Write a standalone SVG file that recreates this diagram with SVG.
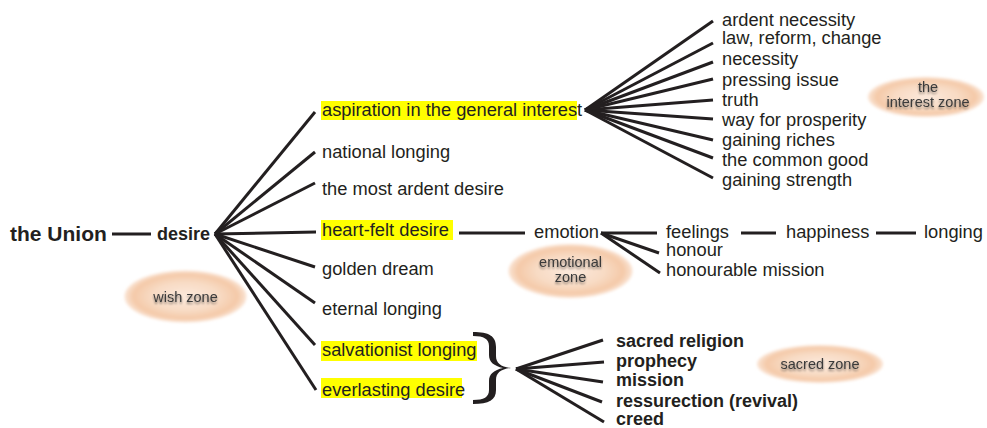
<svg xmlns="http://www.w3.org/2000/svg" width="987" height="428" viewBox="0 0 987 428">
<defs>
<radialGradient id="zg" cx="50%" cy="50%" r="50%">
<stop offset="0" stop-color="#fbe9dc"/>
<stop offset="0.55" stop-color="#f8dbc4"/>
<stop offset="0.85" stop-color="#f4c9a8"/>
<stop offset="1" stop-color="#fae4d4"/>
</radialGradient>
<filter id="soft" x="-10%" y="-20%" width="120%" height="140%"><feGaussianBlur stdDeviation="1.8"/></filter>
<filter id="tsh" x="-10%" y="-30%" width="120%" height="180%">
<feGaussianBlur in="SourceAlpha" stdDeviation="1.2" result="b"/>
<feOffset dx="0" dy="2" result="o"/>
<feComponentTransfer in="o" result="s"><feFuncA type="linear" slope="0.45"/></feComponentTransfer>
<feMerge><feMergeNode in="s"/><feMergeNode in="SourceGraphic"/></feMerge>
</filter>
</defs>
<style>
text{font-family:"Liberation Sans",Arial,sans-serif;fill:#231f20}
.l{font-size:18.3px}
.b{font-size:18px;font-weight:bold}
.z{font-size:14.5px;fill:#3a3a3a;text-anchor:middle}
.hl{fill:#ffff00}
.c line{stroke:#231f20;stroke-width:3;fill:none}
.zone{fill:url(#zg);filter:url(#soft)}
</style>
<rect width="987" height="428" fill="#fff"/>

<g id="zones">
<g id="wish-zone"><ellipse class="zone" cx="185.5" cy="296.5" rx="61" ry="26"/><text class="z" x="185.5" y="302" filter="url(#tsh)">wish zone</text></g>
<g id="emotional-zone"><ellipse class="zone" cx="570.5" cy="271" rx="62" ry="27"/><text class="z" x="570.5" y="267" filter="url(#tsh)">emotional</text><text class="z" x="570.5" y="282" filter="url(#tsh)">zone</text></g>
<g id="interest-zone"><ellipse class="zone" cx="926" cy="97" rx="58" ry="20"/><text class="z" x="928" y="92" filter="url(#tsh)">the</text><text class="z" x="928" y="107" filter="url(#tsh)">interest zone</text></g>
<g id="sacred-zone"><ellipse class="zone" cx="820" cy="364" rx="63" ry="19"/><text class="z" x="820" y="369" filter="url(#tsh)">sacred zone</text></g>
</g>

<g id="connectors" class="c">
<line x1="112" y1="234" x2="151" y2="234"/>
<line x1="215" y1="234" x2="315" y2="112"/>
<line x1="215" y1="234" x2="315" y2="152"/>
<line x1="215" y1="234" x2="315" y2="183"/>
<line x1="215" y1="234" x2="316" y2="232"/>
<line x1="215" y1="234" x2="315" y2="267"/>
<line x1="215" y1="234" x2="315" y2="303"/>
<line x1="215" y1="234" x2="315" y2="345"/>
<line x1="215" y1="234" x2="316" y2="390"/>
<line x1="585" y1="110" x2="713" y2="21"/>
<line x1="585" y1="110" x2="713" y2="43"/>
<line x1="585" y1="110" x2="713" y2="62"/>
<line x1="585" y1="110" x2="713" y2="79"/>
<line x1="585" y1="110" x2="713" y2="100"/>
<line x1="585" y1="110" x2="713" y2="119"/>
<line x1="585" y1="110" x2="713" y2="140"/>
<line x1="585" y1="110" x2="713" y2="158"/>
<line x1="585" y1="110" x2="713" y2="178"/>
<line x1="459" y1="233" x2="525" y2="233"/>
<line x1="601" y1="233" x2="657" y2="233"/>
<line x1="601" y1="233" x2="659" y2="253"/>
<line x1="601" y1="233" x2="660" y2="273"/>
<line x1="741" y1="233" x2="776" y2="233"/>
<line x1="876" y1="233" x2="916" y2="233"/>
<line x1="516" y1="369" x2="603" y2="340"/>
<line x1="516" y1="369" x2="604" y2="362"/>
<line x1="516" y1="369" x2="603" y2="382"/>
<line x1="516" y1="369" x2="602" y2="402"/>
<line x1="516" y1="369" x2="604" y2="422"/>
<path id="brace" fill="#231f20" d="M473,332 C489,332 496,336 496,347 L496,356 C496,363 501,367 511,368 C501,369 496,373 496,380 L496,390 C496,400 489,404 473,404 L473,400 C484,400 489,397 489,390 L489,381 C489,374 494,370 503,368 C494,366 489,362 489,355 L489,346 C489,339 484,336 473,336 Z"/>
</g>

<g id="n-union"><text x="10" y="241" style="font-size:21px;font-weight:bold">the Union</text></g>
<g id="n-desire"><text class="b" x="157" y="240">desire</text></g>

<g id="n-aspiration"><rect class="hl" x="321" y="101" width="256" height="19"/><text class="l" x="322" y="116">aspiration in the general interest</text></g>
<g id="n-national"><text class="l" x="322" y="158">national longing</text></g>
<g id="n-ardent"><text class="l" x="322" y="195">the most ardent desire</text></g>
<g id="n-heartfelt"><rect class="hl" x="321" y="220" width="132" height="20"/><text class="l" x="322" y="236">heart-felt desire</text></g>
<g id="n-golden"><text class="l" x="322" y="275">golden dream</text></g>
<g id="n-eternal"><text class="l" x="322" y="315">eternal longing</text></g>
<g id="n-salvationist"><rect class="hl" x="321" y="341" width="156" height="20"/><text class="l" x="322" y="356">salvationist longing</text></g>
<g id="n-everlasting"><rect class="hl" x="321" y="378" width="141" height="20"/><text class="l" x="322" y="396">everlasting desire</text></g>

<g id="interest-list">
<text class="l" x="722" y="26">ardent necessity</text>
<text class="l" x="722" y="44">law, reform, change</text>
<text class="l" x="722" y="65">necessity</text>
<text class="l" x="722" y="86">pressing issue</text>
<text class="l" x="722" y="106">truth</text>
<text class="l" x="722" y="126">way for prosperity</text>
<text class="l" x="722" y="146">gaining riches</text>
<text class="l" x="722" y="166">the common good</text>
<text class="l" x="722" y="186">gaining strength</text>
</g>

<g id="n-emotion"><text class="l" x="534" y="238">emotion</text></g>
<g id="n-feelings"><text class="l" x="666" y="238">feelings</text></g>
<g id="n-honour"><text class="l" x="666" y="256">honour</text></g>
<g id="n-mission-h"><text class="l" x="666" y="276">honourable mission</text></g>
<g id="n-happiness"><text class="l" x="786" y="238">happiness</text></g>
<g id="n-longing"><text class="l" x="924" y="238">longing</text></g>

<g id="sacred-list">
<text class="b" x="616" y="347">sacred religion</text>
<text class="b" x="616" y="367">prophecy</text>
<text class="b" x="616" y="386">mission</text>
<text class="b" x="616" y="407">ressurection (revival)</text>
<text class="b" x="616" y="425">creed</text>
</g>
</svg>
